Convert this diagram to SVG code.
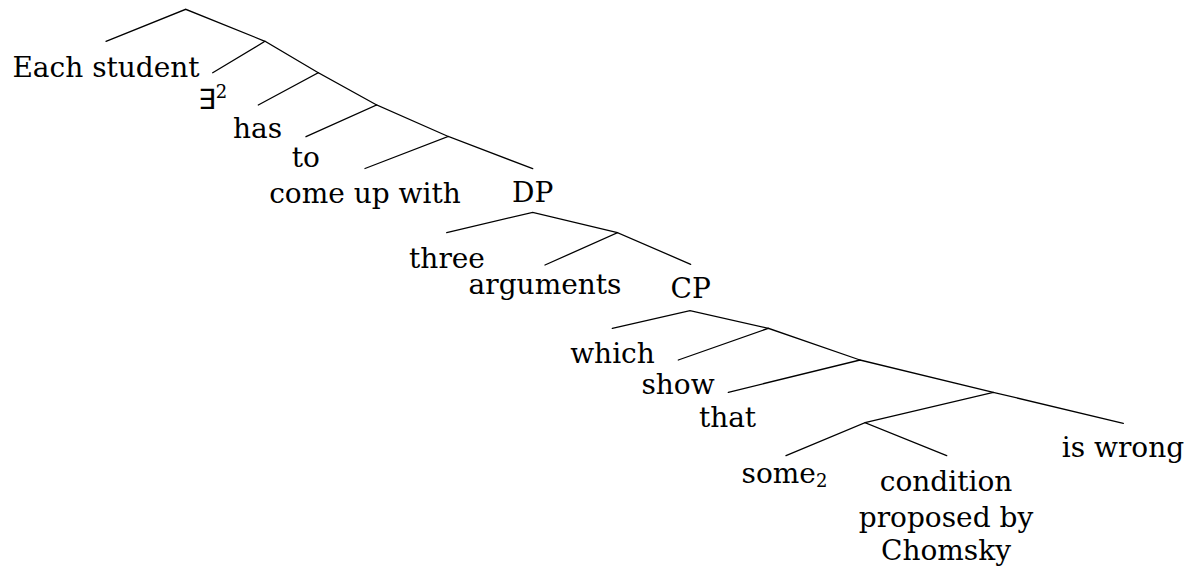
<svg xmlns="http://www.w3.org/2000/svg" width="1195" height="568" viewBox="0 0 1195 568">
  <style>
    .edge { stroke: #000; stroke-width: 1.3; fill: none; stroke-linecap: round; }
    .lbl { font-family: "DejaVu Serif", "Liberation Serif", serif; font-size: 28px; fill: #000; text-anchor: middle; }
    .sup { font-size: 18px; }
    .sym { font-family: "DejaVu Sans", "Liberation Sans", sans-serif; font-weight: normal; }
  </style>
  <rect width="1195" height="568" fill="#fff"/>

  <!-- tree branches -->
  <g id="edges" class="edge">
    <path d="M106,41.3 L185.7,9.3 L265,41.3"/>
    <path d="M212.7,72.7 L265,41.3 L318.3,72.7"/>
    <path d="M258.3,105 L318.3,72.7 L376.7,105"/>
    <path d="M306,136.7 L376.7,105 L448.3,136.5"/>
    <path d="M365,168.5 L448.3,136.5 L532.7,168.7"/>
    <path d="M446.7,232.7 L532.7,212.3 L617.5,232.7"/>
    <path d="M545,265 L617.5,232.7 L690.7,264.3"/>
    <path d="M612.3,328.3 L690,310.7 L768.3,328.3"/>
    <path d="M678.3,360 L768.3,328.3 L860,360"/>
    <path d="M728.3,392.3 L860,360 L993.3,392.3"/>
    <path d="M865,422.7 L993.3,392.3 L1123.3,423.3"/>
    <path d="M786,455.7 L865,422.7 L946.7,455.7"/>
  </g>

  <!-- leaves and phrase labels -->
  <g id="n-each-student"><text class="lbl" x="106" y="77">Each student</text></g>
  <g id="n-exists"><text class="lbl" x="212.5" y="109"><tspan class="sym">∃</tspan><tspan class="sup" dy="-11">2</tspan></text></g>
  <g id="n-has"><text class="lbl" x="257.5" y="138">has</text></g>
  <g id="n-to"><text class="lbl" x="305.7" y="167">to</text></g>
  <g id="n-come-up-with"><text class="lbl" x="365" y="202.5">come up with</text></g>
  <g id="n-dp"><text class="lbl" x="532.7" y="202">DP</text></g>
  <g id="n-three"><text class="lbl" x="447" y="267.7">three</text></g>
  <g id="n-arguments"><text class="lbl" x="545" y="293.5">arguments</text></g>
  <g id="n-cp"><text class="lbl" x="690.7" y="298">CP</text></g>
  <g id="n-which"><text class="lbl" x="612.5" y="363.3">which</text></g>
  <g id="n-show"><text class="lbl" x="678" y="394.3">show</text></g>
  <g id="n-that"><text class="lbl" x="727.5" y="426.7">that</text></g>
  <g id="n-some"><text class="lbl" x="784.5" y="483.3">some<tspan class="sup" dy="4">2</tspan></text></g>
  <g id="n-condition">
    <text class="lbl" x="946" y="491">condition</text>
    <text class="lbl" x="946" y="526.5">proposed by</text>
    <text class="lbl" x="946" y="560">Chomsky</text>
  </g>
  <g id="n-is-wrong"><text class="lbl" x="1123" y="456.7">is wrong</text></g>
</svg>
